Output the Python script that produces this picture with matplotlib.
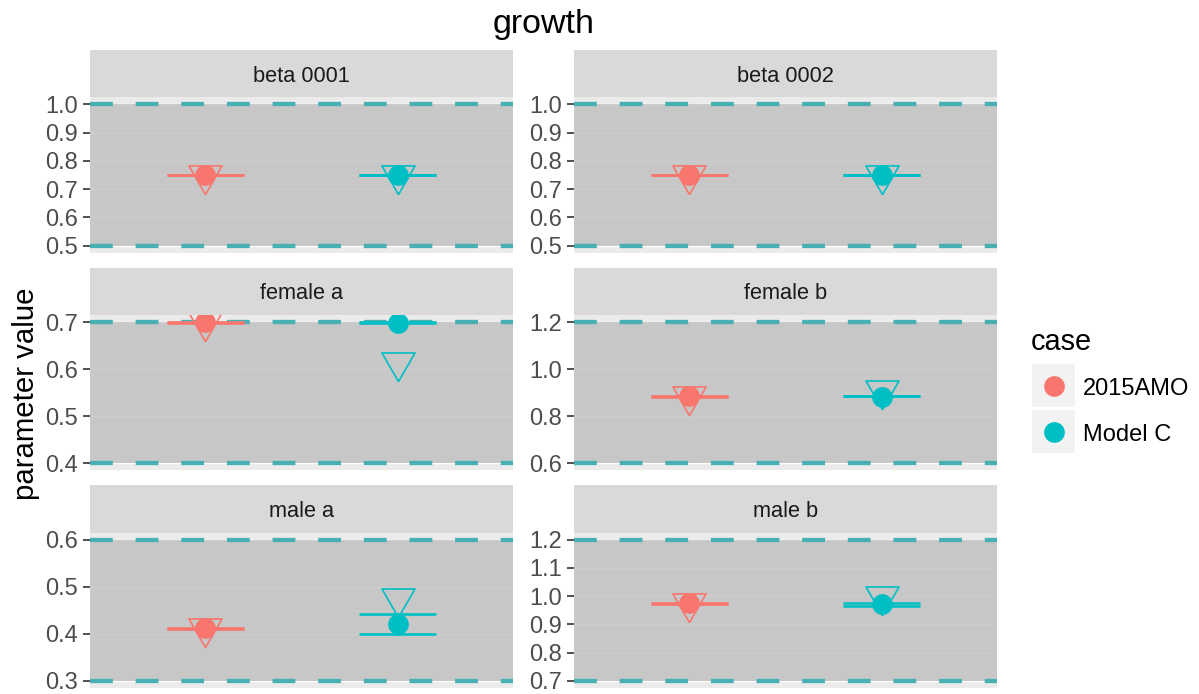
import matplotlib
matplotlib.use('Agg')
import matplotlib.pyplot as plt
from matplotlib.patches import Rectangle
import numpy as np

plt.rcParams['font.family'] = ['Liberation Sans', 'DejaVu Sans']

# ---------------- data ----------------
params = ['beta 0001', 'beta 0002', 'female a', 'female b', 'male a', 'male b']
cases = ['2015AMO', 'Model C']
case_colors = ['#F8766D', '#00BFC4']

lower_bound = [0.5, 0.5, 0.4, 0.6, 0.3, 0.7]
upper_bound = [1.0, 1.0, 0.7, 1.2, 0.6, 1.2]

est_2015AMO = [0.75, 0.75, 0.700, 0.884, 0.412, 0.975]
est_ModelC = [0.75, 0.75, 0.699, 0.882, 0.4205, 0.973]

init_2015AMO = [0.75, 0.75, 0.700, 0.884, 0.412, 0.975]
init_ModelC = [0.75, 0.75, 0.615, 0.912, 0.477, 1.000]

lo_2015AMO = [0.749, 0.749, 0.699, 0.883, 0.411, 0.974]
hi_2015AMO = [0.751, 0.751, 0.701, 0.885, 0.413, 0.976]
lo_ModelC = [0.749, 0.749, 0.699, 0.884, 0.399, 0.967]
hi_ModelC = [0.751, 0.751, 0.701, 0.886, 0.443, 0.977]

y_ticks = [
    [0.5, 0.6, 0.7, 0.8, 0.9, 1.0],
    [0.5, 0.6, 0.7, 0.8, 0.9, 1.0],
    [0.4, 0.5, 0.6, 0.7],
    [0.6, 0.8, 1.0, 1.2],
    [0.3, 0.4, 0.5, 0.6],
    [0.7, 0.8, 0.9, 1.0, 1.1, 1.2],
]

estimates = [est_2015AMO, est_ModelC]
inits = [init_2015AMO, init_ModelC]
los = [lo_2015AMO, lo_ModelC]
his = [hi_2015AMO, hi_ModelC]

# ---------------- layout ----------------
W, H = 1199, 694
fig = plt.figure(figsize=(W / 100, H / 100), dpi=100)

cols = [(90, 513), (574, 997)]
rows = [(97.3, 252.7), (315, 470.4), (532.7, 688)]
strip_h = 47.3

dash_col = '#48B0B2'
# R's down-triangle (pch 6), centred on its centroid
tri = [(0, -1.555), (1.347, 0.778), (-1.347, 0.778), (0, -1.555)]

for i, p in enumerate(params):
    r, c = divmod(i, 2)
    x0, x1 = cols[c]
    y0, y1 = rows[r]
    ax = fig.add_axes([x0 / W, 1 - y1 / H, (x1 - x0) / W, (y1 - y0) / H])
    ax.set_facecolor('#EBEBEB')
    lo_b, up_b = lower_bound[i], upper_bound[i]
    rng = up_b - lo_b
    ax.set_xlim(0.4, 2.6)
    ax.set_ylim(lo_b - 0.05 * rng, up_b + 0.05 * rng)
    t = y_ticks[i]
    ax.set_yticks(t)
    ax.set_yticklabels([f'{v:.1f}' for v in t])
    minors = [(a + b) / 2 for a, b in zip(t[:-1], t[1:])]
    ax.set_yticks(minors, minor=True)
    ax.set_xticks([])
    ax.tick_params(axis='y', which='major', length=5, width=1.2,
                   color='#333333', labelcolor='#4D4D4D', labelsize=17, pad=3.9)
    ax.tick_params(axis='y', which='minor', length=0)
    ax.set_axisbelow(True)
    ax.grid(axis='y', which='major', color='white', lw=1.0)
    ax.grid(axis='y', which='minor', color='white', lw=0.55)
    for s in ax.spines.values():
        s.set_visible(False)

    ax.axhspan(lo_b, up_b, color='#BEBEBE', alpha=0.78, lw=0, zorder=1)
    for b in (lo_b, up_b):
        ax.axhline(b, color=dash_col, lw=3.1, dashes=(5.3, 5.3), zorder=2)

    for j, col in enumerate(case_colors):
        x = j + 1
        lo, hi = los[j][i], his[j][i]
        ax.plot([x - 0.2, x + 0.2], [lo, lo], color=col, lw=1.9, zorder=3,
                solid_capstyle='butt')
        ax.plot([x - 0.2, x + 0.2], [hi, hi], color=col, lw=1.9, zorder=3,
                solid_capstyle='butt')
        ax.plot([x, x], [lo, hi], color=col, lw=1.9, zorder=3)
        ax.plot([x], [inits[j][i]], marker=tri, ms=27.5, mfc='none', mec=col,
                mew=1.2, ls='none', zorder=4)
        ax.plot([x], [estimates[j][i]], marker='o', ms=14.9, color=col, mew=0,
                ls='none', zorder=5)

    sax = fig.add_axes([x0 / W, 1 - y0 / H, (x1 - x0) / W, strip_h / H])
    sax.set_facecolor('#D9D9D9')
    sax.set_xticks([])
    sax.set_yticks([])
    for s in sax.spines.values():
        s.set_visible(False)
    sax.text(0.5, 15.6 / strip_h, p, ha='center', va='baseline',
             fontsize=15.7, color='#1A1A1A', transform=sax.transAxes)

# overlay for title, axis label and legend
ov = fig.add_axes([0, 0, 1, 1])
ov.set_xlim(0, W)
ov.set_ylim(H, 0)
ov.axis('off')

ov.text(543.5, 33, 'growth', ha='center', va='baseline', fontsize=24.5,
        color='black')
ov.text(26, 393.5, 'parameter value', rotation=90, ha='center', va='center',
        fontsize=21.2, color='black')

ov.text(1031, 350, 'case', ha='left', va='baseline', fontsize=20.8,
        color='black')
key_tops = [364, 410]
label_base = [395, 441]
for k, (lab, col) in enumerate(zip(cases, case_colors)):
    ov.add_patch(Rectangle((1032, key_tops[k]), 43, 43, facecolor='#F2F2F2',
                           edgecolor='none'))
    ov.plot([1053.5], [key_tops[k] + 21.5], marker='o', ms=14.9, color=col,
            mew=0, ls='none', clip_on=False)
    ov.text(1082.7, label_base[k], lab, ha='left', va='baseline', fontsize=17,
            color='black')

fig.savefig('out.png', dpi=100)
